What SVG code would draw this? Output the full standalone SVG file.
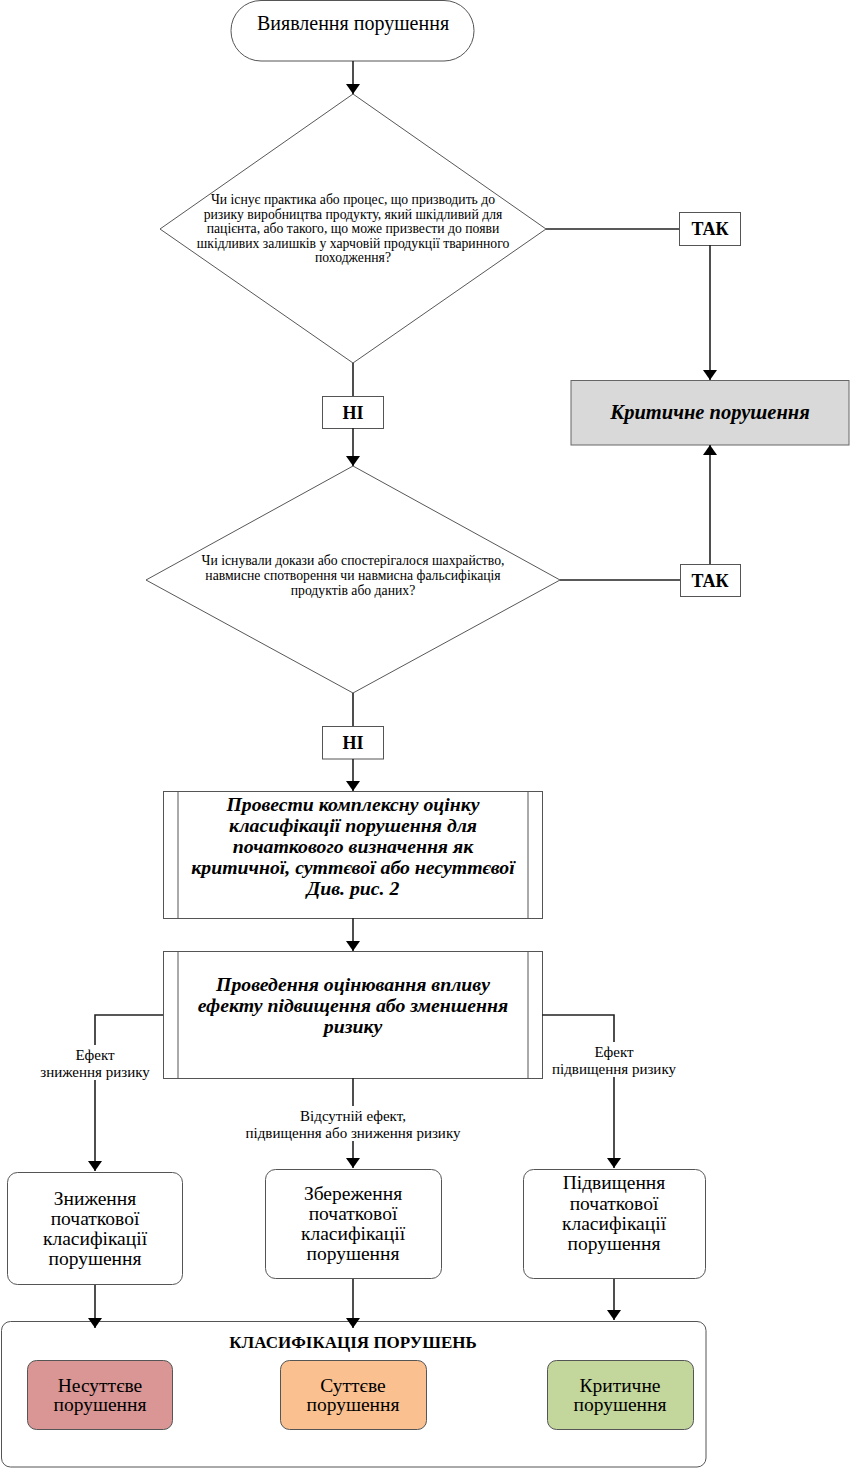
<svg xmlns="http://www.w3.org/2000/svg" width="850" height="1469" viewBox="0 0 850 1469">
<defs>
<marker id="ah" viewBox="0 0 10 14" refX="10" refY="7" markerWidth="10" markerHeight="14" markerUnits="userSpaceOnUse" orient="auto">
<path d="M0,0 L10,7 L0,14 Z" fill="#000"/>
</marker>
<style>
text{font-family:"Liberation Serif","Times New Roman",serif;fill:#000;text-anchor:middle}
.shape{fill:#fff;stroke:#555;stroke-width:1}
.dia{fill:#fff;stroke:#444;stroke-width:0.9}
.conn{fill:none;stroke:#222;stroke-width:1.6}
.arr{fill:none;stroke:#222;stroke-width:1.6;marker-end:url(#ah)}
.q{font-size:13.7px}
.lbl{font-size:15px}
.tag{font-size:18px;font-weight:bold}
.bi{font-size:19.8px;font-weight:bold;font-style:italic}
.res{font-size:19.5px}
</style>
</defs>
<rect width="850" height="1469" fill="#fff"/>

<g id="start">
<rect class="shape" x="231" y="0.5" width="243" height="60.5" rx="30" ry="30"/>
<text x="353" y="30" style="font-size:20px">Виявлення порушення</text>
</g>

<g id="q1">
<polygon class="dia" points="353,94 546,229 353,363 160,229"/>
<text class="q" x="353" y="204">Чи існує практика або процес, що призводить до</text>
<text class="q" x="353" y="218.5">ризику виробництва продукту, який шкідливий для</text>
<text class="q" x="353" y="233">пацієнта, або такого, що може призвести до появи</text>
<text class="q" x="353" y="247.5">шкідливих залишків у харчовій продукції тваринного</text>
<text class="q" x="353" y="262">походження?</text>
</g>

<g id="yes1">
<rect class="shape" x="679.5" y="212.5" width="61" height="33"/>
<text class="tag" x="710" y="235">ТАК</text>
</g>

<g id="critical">
<rect x="571" y="380.5" width="278" height="64.5" fill="#d9d9d9" stroke="#666" stroke-width="1"/>
<text class="bi" x="710" y="419" style="font-size:20.5px">Критичне порушення</text>
</g>

<g id="no1">
<rect class="shape" x="322.5" y="396.5" width="61" height="32"/>
<text class="tag" x="353" y="418.5">НІ</text>
</g>

<g id="q2">
<polygon class="dia" points="353,466 560,580 353,693 146,580"/>
<text class="q" x="353" y="564.5">Чи існували докази або спостерігалося шахрайство,</text>
<text class="q" x="353" y="579.5">навмисне спотворення чи навмисна фальсифікація</text>
<text class="q" x="353" y="594.5">продуктів або даних?</text>
</g>

<g id="yes2">
<rect class="shape" x="680.5" y="564.5" width="60" height="32"/>
<text class="tag" x="710" y="587">ТАК</text>
</g>

<g id="no2">
<rect class="shape" x="322.5" y="726.5" width="61" height="32.5"/>
<text class="tag" x="353" y="749">НІ</text>
</g>

<g id="assess">
<rect class="shape" x="163.5" y="791.5" width="379" height="127"/>
<line x1="178" y1="791.5" x2="178" y2="918.5" stroke="#555"/>
<line x1="528" y1="791.5" x2="528" y2="918.5" stroke="#555"/>
<text class="bi" x="353" y="811">Провести комплексну оцінку</text>
<text class="bi" x="353" y="832">класифікації порушення для</text>
<text class="bi" x="353" y="853">початкового визначення як</text>
<text class="bi" x="353" y="874">критичної, суттєвої або несуттєвої</text>
<text class="bi" x="353" y="895">Див. рис. 2</text>
</g>

<g id="impact">
<rect class="shape" x="163.5" y="951.5" width="379" height="127"/>
<line x1="178" y1="951.5" x2="178" y2="1078.5" stroke="#555"/>
<line x1="528" y1="951.5" x2="528" y2="1078.5" stroke="#555"/>
<text class="bi" x="353" y="991">Проведення  оцінювання впливу</text>
<text class="bi" x="353" y="1012">ефекту підвищення або зменшення</text>
<text class="bi" x="353" y="1033">ризику</text>
</g>

<g id="lower">
<rect class="shape" x="7.5" y="1172.5" width="175" height="112" rx="10"/>
<text class="res" x="95" y="1205">Зниження</text>
<text class="res" x="95" y="1225">початкової</text>
<text class="res" x="95" y="1245">класифікації</text>
<text class="res" x="95" y="1265">порушення</text>
</g>

<g id="keep">
<rect class="shape" x="265.5" y="1169.5" width="176" height="109" rx="10"/>
<text class="res" x="353" y="1200">Збереження</text>
<text class="res" x="353" y="1220">початкової</text>
<text class="res" x="353" y="1240">класифікації</text>
<text class="res" x="353" y="1260">порушення</text>
</g>

<g id="raise">
<rect class="shape" x="523.5" y="1169.5" width="182" height="109" rx="10"/>
<text class="res" x="614" y="1189">Підвищення</text>
<text class="res" x="614" y="1210">початкової</text>
<text class="res" x="614" y="1230">класифікації</text>
<text class="res" x="614" y="1250">порушення</text>
</g>

<g id="classification">
<rect class="shape" x="1.5" y="1321.5" width="704.5" height="145.5" rx="9"/>
<text x="353" y="1348" style="font-size:17px;font-weight:bold">КЛАСИФІКАЦІЯ ПОРУШЕНЬ</text>
</g>

<g id="minor">
<rect x="27.5" y="1360.5" width="145" height="69" rx="9" fill="#d99694" stroke="#555"/>
<text class="res" x="100" y="1392">Несуттєве</text>
<text class="res" x="100" y="1411">порушення</text>
</g>

<g id="major">
<rect x="280.5" y="1360.5" width="146" height="69" rx="9" fill="#fac090" stroke="#555"/>
<text class="res" x="353" y="1392">Суттєве</text>
<text class="res" x="353" y="1411">порушення</text>
</g>

<g id="crit">
<rect x="547.5" y="1360.5" width="146" height="69" rx="9" fill="#c3d69b" stroke="#555"/>
<text class="res" x="620" y="1392">Критичне</text>
<text class="res" x="620" y="1411">порушення</text>
</g>

<g id="connectors">
<line class="arr" x1="353" y1="61" x2="353" y2="94"/>
<polyline class="conn" points="546,229 679,229"/>
<line class="arr" x1="710" y1="245" x2="710" y2="380"/>
<line class="conn" x1="353" y1="363" x2="353" y2="396"/>
<line class="arr" x1="353" y1="428" x2="353" y2="466"/>
<polyline class="conn" points="560,580 680,580"/>
<line class="arr" x1="710" y1="564" x2="710" y2="445"/>
<line class="conn" x1="353" y1="693" x2="353" y2="726"/>
<line class="arr" x1="353" y1="759" x2="353" y2="791"/>
<line class="arr" x1="353" y1="918" x2="353" y2="951"/>
<polyline class="arr" points="163,1015 95,1015 95,1171"/>
<polyline class="arr" points="542,1015 614,1015 614,1168"/>
<line class="arr" x1="353" y1="1078" x2="353" y2="1168"/>
<line class="arr" x1="95" y1="1285" x2="95" y2="1328"/>
<line class="arr" x1="353" y1="1279" x2="353" y2="1328"/>
<line class="arr" x1="614" y1="1279" x2="614" y2="1320"/>
<rect x="30" y="1045" width="130" height="35" fill="#fff"/>
<text class="lbl" x="95" y="1060">Ефект</text>
<text class="lbl" x="95" y="1077">зниження ризику</text>
<rect x="545" y="1042" width="138" height="35" fill="#fff"/>
<text class="lbl" x="614" y="1057">Ефект</text>
<text class="lbl" x="614" y="1074">підвищення ризику</text>
<rect x="236" y="1106" width="234" height="35" fill="#fff"/>
<text class="lbl" x="353" y="1121">Відсутній ефект,</text>
<text class="lbl" x="353" y="1138">підвищення або зниження ризику</text>
</g>
</svg>
